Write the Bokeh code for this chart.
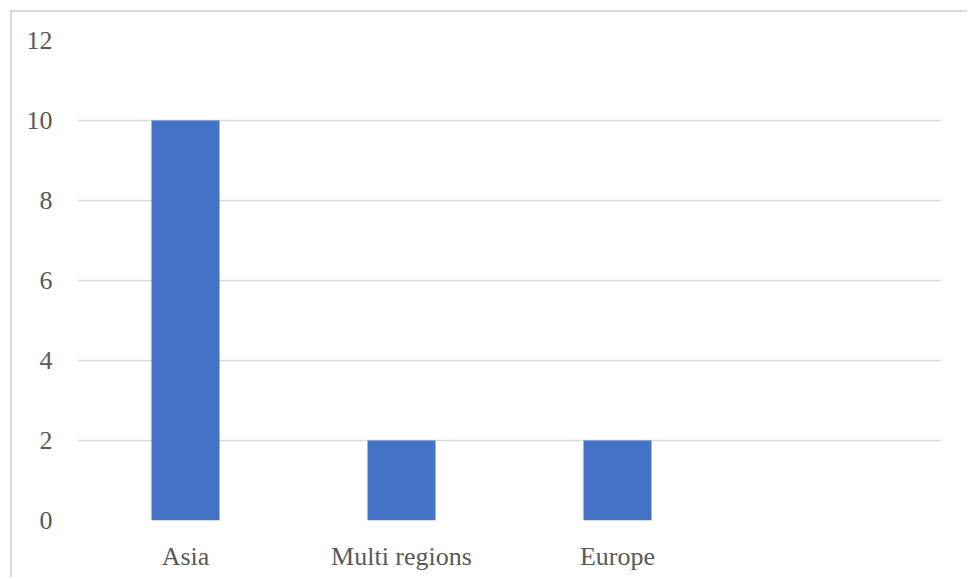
from bokeh.plotting import figure
from bokeh.models import FactorRange, Range1d, SingleIntervalTicker, ColumnDataSource
from bokeh.embed import file_html
from bokeh.resources import INLINE

# Count of entries per region
categories = ["Asia", "Multi regions", "Europe", " "]
counts = [10, 2, 2, 0]
y_ticks = [0, 2, 4, 6, 8, 10, 12]

source = ColumnDataSource(data=dict(cat=categories, count=counts))

p = figure(
    x_range=FactorRange(*categories, range_padding=0),
    y_range=Range1d(0, 12),
    width=957, height=567,
    output_backend="svg", toolbar_location=None,
    min_border_left=65, min_border_right=28,
    min_border_top=28, min_border_bottom=59,
    margin=(10, 0, 0, 10),
    styles={"border-left": "2px solid #d9d9d9", "border-top": "2px solid #d9d9d9"},
)
p.outline_line_color = None
p.background_fill_color = "white"
p.border_fill_color = "white"

p.vbar(x="cat", top="count", width=0.315, source=source,
       fill_color="#4472C4", line_color=None)

p.xgrid.grid_line_color = None
p.ygrid.grid_line_color = "#d9d9d9"
p.ygrid.grid_line_width = 1.5
p.yaxis.ticker = SingleIntervalTicker(interval=2)

for ax in (p.xaxis, p.yaxis):
    ax.axis_line_color = None
    ax.major_tick_line_color = None
    ax.minor_tick_line_color = None
    ax.major_label_text_font = "Liberation Serif"
    ax.major_label_text_font_size = "26px"
    ax.major_label_text_color = "#595959"
p.yaxis.major_label_standoff = 19
p.xaxis.major_label_standoff = 15

open("out.html", "w").write(file_html(p, INLINE))
